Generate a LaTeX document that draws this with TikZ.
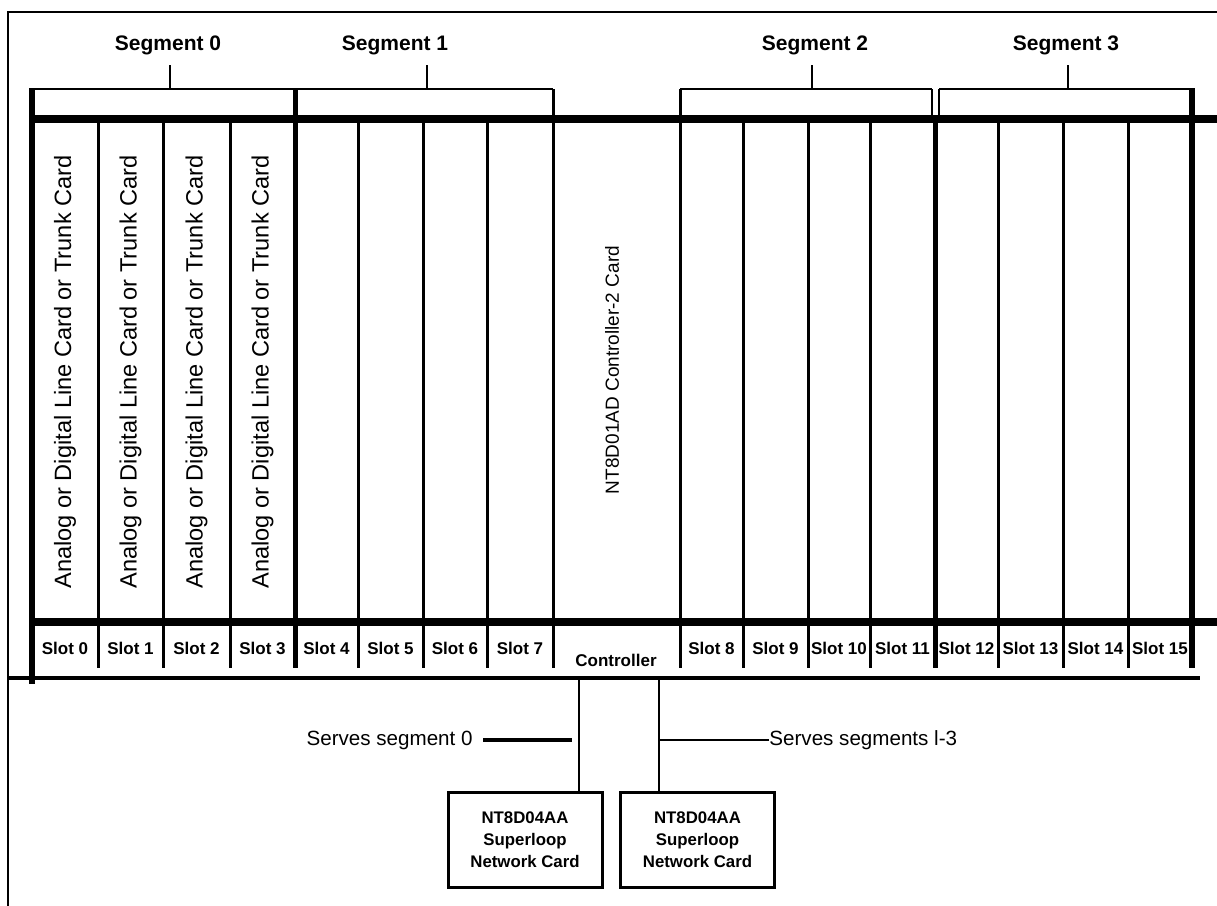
\documentclass[tikz,border=0pt]{standalone}
\usepackage{fontspec}
\setmainfont{Liberation Sans}
\usetikzlibrary{positioning}

\begin{document}
\begin{tikzpicture}[x=0.5pt, y=-0.5pt,
	bar/.style={line width=4pt},
	post/.style={line width=3pt},
	wall/.style={line width=1.5pt},
	hair/.style={line width=1pt},
	seglabel/.style={font=\bfseries\fontsize{10.5}{12}\selectfont, inner sep=0pt},
	slotlabel/.style={font=\bfseries\fontsize{8.5}{10}\selectfont, inner sep=0pt},
	cardtext/.style={rotate=90, font=\fontsize{11.8}{13}\selectfont, inner sep=0pt},
	netcard/.style={draw, line width=1.5pt, minimum width=77pt, minimum height=47.5pt,
		align=center, font=\bfseries\fontsize{8.4}{11}\selectfont},
	note/.style={font=\fontsize{10.3}{12}\selectfont, inner sep=0pt}]
	\useasboundingbox (0,0) rectangle (1217,906);
	
	%frame
	\draw[hair] (7,12) -- (1217,12);
	\draw[hair] (8,12) -- (8,906);
	
	%segments
	\node[seglabel] (seg0) at (168,45)  {Segment 0};
	\node[seglabel] (seg1) at (395,45)  {Segment 1};
	\node[seglabel] (seg2) at (815,45)  {Segment 2};
	\node[seglabel] (seg3) at (1066,45) {Segment 3};
	\foreach \x [count=\i from 0] in {170,427,812,1068}
		\draw[hair] (\x,65) -- (\x,89);
	\draw[hair] (34,89) -- (553,89);
	\draw[hair] (680,89) -- (932,89);
	\draw[hair] (939,89) -- (1192,89);
	\draw[hair] (932,89) -- (932,119);
	\draw[hair] (939,89) -- (939,119);
	
	%shelf
	\draw[bar] (30,119) -- (1217,119);
	\draw[bar] (30,622) -- (1217,622);
	\draw[post] (32,88) -- (32,684);
	\draw[post] (1192,88) -- (1192,668);
	\draw[line width=2pt] (8,678) -- (1200,678);
	\foreach \x in {98,163,230,358,423,487,743,808,870,998,1063,1128}
		\draw[wall] (\x,119) -- (\x,668);
	\draw[line width=2.5pt] (295,89) -- (295,668);
	\draw[line width=2.5pt] (935,119) -- (935,668);
	\draw[wall] (553,89) -- (553,668);
	\draw[wall] (680,89) -- (680,668);
	
	%cards
	\foreach \x [count=\i from 0] in {65,130.5,196.5,262.5}
		\node[cardtext] (card\i) at (\x,372) {Analog or Digital Line Card or Trunk Card};
	\node[cardtext, font=\fontsize{9.5}{11}\selectfont] (ctrl) at (612,370) {NT8D01AD Controller-2 Card};
	
	%slots
	\foreach \x [count=\i from 0] in {65,130.5,196.5,262.5,326.5,390.5,455,520}
		\node[slotlabel] (slot\i) at (\x,648) {Slot \i};
	\foreach \x [count=\i from 8] in {711.5,775.5,839,902.5,966.5,1030.5,1095.5,1160}
		\node[slotlabel] (slot\i) at (\x,648) {Slot \i};
	\node[slotlabel] (ctrlslot) at (616,660) {Controller};
	
	%network cards
	\coordinate (s0) at (579,678);
	\coordinate (s1) at (659,678);
	\node[netcard] (net0) at (525,839.5)   {NT8D04AA\\Superloop\\Network Card};
	\node[netcard] (net1) at (697.5,839.5) {NT8D04AA\\Superloop\\Network Card};
	\node[note, anchor=east] (srv0) at (473,740) {Serves segment 0};
	\node[note, anchor=west] (srv1) at (769,740) {Serves segments l-3};
	
	%links
	\draw[hair] (s0) -- (s0 |- net0.north);
	\draw[hair] (s1) -- (s1 |- net1.north);
	\draw[line width=2pt] ([xshift=5pt]srv0.east) -- ++(44.5pt,0);
	\draw[hair] (srv1.west) -- (s1 |- srv1.west);
\end{tikzpicture}
\end{document}
